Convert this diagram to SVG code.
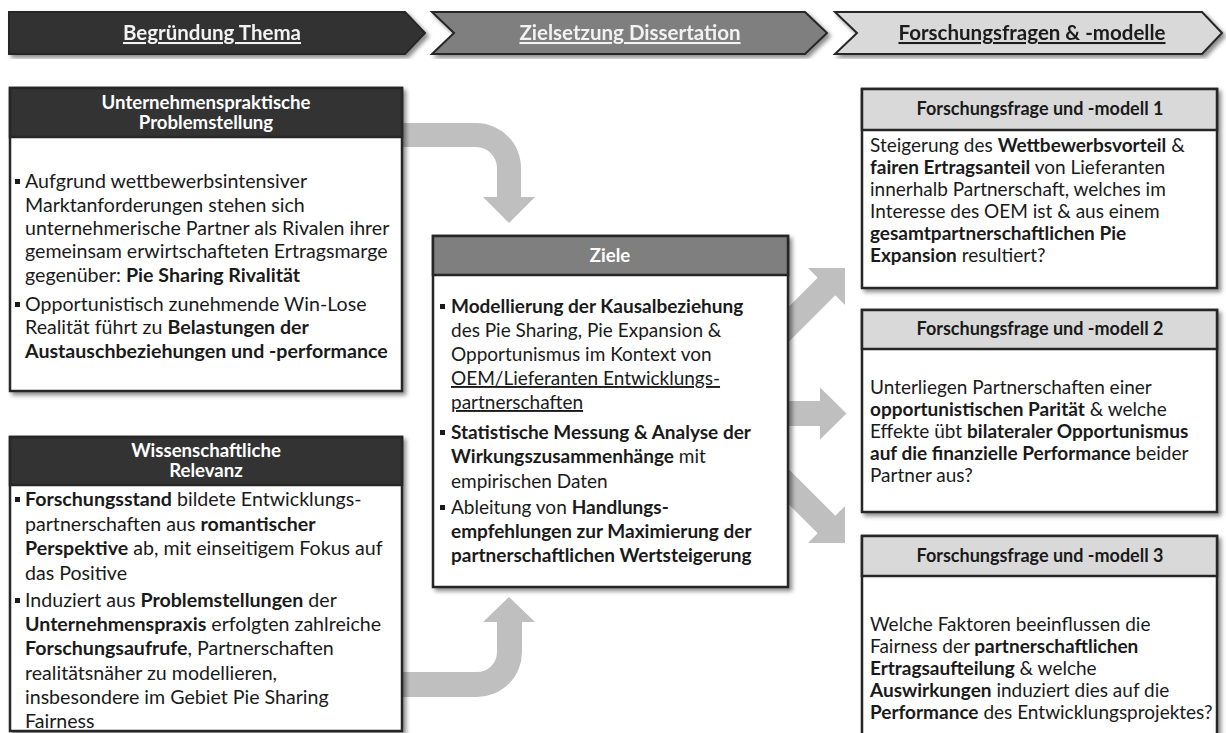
<svg xmlns="http://www.w3.org/2000/svg" width="1226" height="733" viewBox="0 0 1226 733">
  <defs>
    <filter id="shadow" x="-5%" y="-5%" width="112%" height="115%">
      <feDropShadow dx="3" dy="3" stdDeviation="2.2" flood-color="#000" flood-opacity="0.45"/>
    </filter>
    <style>
      text { font-family: "Lato", "Liberation Sans", sans-serif; }
      .body { font-size: 19px; fill: #1a1a1a; }
      .body-l { font-size: 19.6px; fill: #1a1a1a; }
      .b { font-weight: bold; }
      .u { text-decoration: underline; }
      .hd { font-size: 18.6px; font-weight: bold; text-anchor: middle; }
      .hd-q { font-size: 18px; font-weight: bold; text-anchor: middle; }
      .hd-w { fill: #ffffff; }
      .hd-d { fill: #1a1a1a; }
      .phase { font-size: 20.5px; font-weight: bold; text-anchor: middle; text-decoration: underline; }
      .frame { fill: #ffffff; stroke: #262626; stroke-width: 2.5; }
      .chev { stroke: #262626; stroke-width: 2; stroke-linejoin: miter; }
      .flow { fill: #bfbfbf; }
      .bullet { fill: #1a1a1a; }
    </style>
  </defs>

  <rect width="1226" height="733" fill="#ffffff"/>

  <!-- phase chevrons -->
  <g id="phase-begruendung" filter="url(#shadow)">
    <path class="chev" d="M9,12 H405 L425,33 L405,54 H9 Z" fill="#333333"/>
    <text class="phase" x="212" y="40" fill="#f2f2f2">Begründung Thema</text>
  </g>
  <g id="phase-zielsetzung" filter="url(#shadow)">
    <path class="chev" d="M432,12 H805 L827,33 L805,54 H432 L454,33 Z" fill="#7f7f7f"/>
    <text class="phase" x="630" y="40" fill="#f2f2f2">Zielsetzung Dissertation</text>
  </g>
  <g id="phase-forschungsfragen" filter="url(#shadow)">
    <path class="chev" d="M835,12 H1202 L1222,33 L1202,54 H835 L857,33 Z" fill="#d9d9d9"/>
    <text class="phase" x="1032" y="40" fill="#1a1a1a">Forschungsfragen &amp; -modelle</text>
  </g>

  <!-- connectors -->
  <g id="connectors">
    <path class="flow" d="M395,123 H476 A45,45 0 0 1 521,168 V197 H535 L509,223 L483,197 H497 V168 A21,21 0 0 0 476,147 H395 Z"/>
    <path class="flow" d="M395,697 H477 A45,45 0 0 0 522,652 V622 H535 L509,597 L483,622 H497 V652 A20,20 0 0 1 477,672 H395 Z"/>
    <path class="flow" d="M808,268 L845,268 L845,305 L835.3,295.3 L785.3,345.3 L767.7,327.7 L817.7,277.7 Z"/>
    <path class="flow" d="M780,401 H820 V387.5 L846.5,413.5 L820,439.5 V426 H780 Z"/>
    <path class="flow" d="M845,506 L845,543 L808,543 L817.7,533.3 L767.7,483.3 L785.3,465.7 L835.3,515.7 Z"/>
  </g>

  <!-- practical problem statement -->
  <g id="node-problemstellung">
    <rect class="frame" x="10" y="88" width="392" height="303" filter="url(#shadow)"/>
    <rect x="10" y="88" width="392" height="49" fill="#333333" stroke="#262626" stroke-width="2.5"/>
    <text class="hd hd-w" x="206" y="109">Unternehmenspraktische</text>
    <text class="hd hd-w" x="206" y="129">Problemstellung</text>
    <rect class="bullet" x="15" y="179" width="5" height="5"/>
    <text class="body-l" x="25" y="188">Aufgrund wettbewerbsintensiver</text>
    <text class="body-l" x="25" y="212">Marktanforderungen stehen sich</text>
    <text class="body-l" x="25" y="235">unternehmerische Partner als Rivalen ihrer</text>
    <text class="body-l" x="25" y="258">gemeinsam erwirtschafteten Ertragsmarge</text>
    <text class="body-l" x="25" y="282">gegenüber: <tspan class="b">Pie Sharing Rivalität</tspan></text>
    <rect class="bullet" x="15" y="302" width="5" height="5"/>
    <text class="body-l" x="25" y="311">Opportunistisch zunehmende Win-Lose</text>
    <text class="body-l" x="25" y="334">Realität führt zu <tspan class="b">Belastungen der</tspan></text>
    <text class="body-l b" x="25" y="358">Austauschbeziehungen und -performance</text>
  </g>

  <!-- scientific relevance -->
  <g id="node-relevanz">
    <rect class="frame" x="10" y="437" width="392" height="294" filter="url(#shadow)"/>
    <rect x="10" y="437" width="392" height="48" fill="#333333" stroke="#262626" stroke-width="2.5"/>
    <text class="hd hd-w" x="206" y="457">Wissenschaftliche</text>
    <text class="hd hd-w" x="206" y="477">Relevanz</text>
    <rect class="bullet" x="15" y="497" width="5" height="5"/>
    <text class="body-l" x="25" y="506"><tspan class="b">Forschungsstand</tspan> bildete Entwicklungs-</text>
    <text class="body-l" x="25" y="531">partnerschaften aus <tspan class="b">romantischer</tspan></text>
    <text class="body-l" x="25" y="555"><tspan class="b">Perspektive</tspan> ab, mit einseitigem Fokus auf</text>
    <text class="body-l" x="25" y="580">das Positive</text>
    <rect class="bullet" x="15" y="598" width="5" height="5"/>
    <text class="body-l" x="25" y="607">Induziert aus <tspan class="b">Problemstellungen</tspan> der</text>
    <text class="body-l" x="25" y="631"><tspan class="b">Unternehmenspraxis</tspan> erfolgten zahlreiche</text>
    <text class="body-l" x="25" y="655"><tspan class="b">Forschungsaufrufe</tspan>, Partnerschaften</text>
    <text class="body-l" x="25" y="680">realitätsnäher zu modellieren,</text>
    <text class="body-l" x="25" y="704">insbesondere im Gebiet Pie Sharing</text>
    <text class="body-l" x="25" y="728">Fairness</text>
  </g>

  <!-- goals -->
  <g id="node-ziele">
    <rect class="frame" x="433" y="236" width="355" height="351" filter="url(#shadow)"/>
    <rect x="433" y="236" width="355" height="39" fill="#7f7f7f" stroke="#262626" stroke-width="2.5"/>
    <text class="hd hd-w" x="610" y="262">Ziele</text>
    <rect class="bullet" x="440" y="304" width="5" height="5"/>
    <text class="body b" x="451" y="313">Modellierung der Kausalbeziehung</text>
    <text class="body" x="451" y="337">des Pie Sharing, Pie Expansion &amp;</text>
    <text class="body" x="451" y="361">Opportunismus im Kontext von</text>
    <text class="body u" x="451" y="385">OEM/Lieferanten Entwicklungs-</text>
    <text class="body u" x="451" y="409">partnerschaften</text>
    <rect class="bullet" x="440" y="430" width="5" height="5"/>
    <text class="body b" x="451" y="439">Statistische Messung &amp; Analyse der</text>
    <text class="body" x="451" y="463"><tspan class="b">Wirkungszusammenhänge</tspan> mit</text>
    <text class="body" x="451" y="488">empirischen Daten</text>
    <rect class="bullet" x="440" y="505" width="5" height="5"/>
    <text class="body" x="451" y="514">Ableitung von <tspan class="b">Handlungs-</tspan></text>
    <text class="body b" x="451" y="538">empfehlungen zur Maximierung der</text>
    <text class="body b" x="451" y="562">partnerschaftlichen Wertsteigerung</text>
  </g>

  <!-- research question 1 -->
  <g id="node-frage-1">
    <rect class="frame" x="862" y="89" width="355" height="199" filter="url(#shadow)"/>
    <rect x="862" y="89" width="355" height="41" fill="#d9d9d9" stroke="#262626" stroke-width="2.5"/>
    <text class="hd-q hd-d" x="1040" y="115">Forschungsfrage und -modell 1</text>
    <text class="body" x="870" y="152">Steigerung des <tspan class="b">Wettbewerbsvorteil</tspan> &amp;</text>
    <text class="body" x="870" y="174"><tspan class="b">fairen Ertragsanteil</tspan> von Lieferanten</text>
    <text class="body" x="870" y="196">innerhalb Partnerschaft, welches im</text>
    <text class="body" x="870" y="218">Interesse des OEM ist &amp; aus einem</text>
    <text class="body b" x="870" y="240">gesamtpartnerschaftlichen Pie</text>
    <text class="body" x="870" y="262"><tspan class="b">Expansion</tspan> resultiert?</text>
  </g>

  <!-- research question 2 -->
  <g id="node-frage-2">
    <rect class="frame" x="862" y="310" width="355" height="202" filter="url(#shadow)"/>
    <rect x="862" y="310" width="355" height="39" fill="#d9d9d9" stroke="#262626" stroke-width="2.5"/>
    <text class="hd-q hd-d" x="1040" y="335">Forschungsfrage und -modell 2</text>
    <text class="body" x="870" y="394">Unterliegen Partnerschaften einer</text>
    <text class="body" x="870" y="416"><tspan class="b">opportunistischen Parität</tspan> &amp; welche</text>
    <text class="body" x="870" y="438">Effekte übt <tspan class="b">bilateraler Opportunismus</tspan></text>
    <text class="body" x="870" y="460"><tspan class="b">auf die finanzielle Performance</tspan> beider</text>
    <text class="body" x="870" y="482">Partner aus?</text>
  </g>

  <!-- research question 3 (runs past the lower edge) -->
  <g id="node-frage-3">
    <rect class="frame" x="862" y="536" width="355" height="230" filter="url(#shadow)"/>
    <rect x="862" y="536" width="355" height="40" fill="#d9d9d9" stroke="#262626" stroke-width="2.5"/>
    <text class="hd-q hd-d" x="1040" y="562">Forschungsfrage und -modell 3</text>
    <text class="body" x="870" y="631">Welche Faktoren beeinflussen die</text>
    <text class="body" x="870" y="653">Fairness der <tspan class="b">partnerschaftlichen</tspan></text>
    <text class="body" x="870" y="675"><tspan class="b">Ertragsaufteilung</tspan> &amp; welche</text>
    <text class="body" x="870" y="697"><tspan class="b">Auswirkungen</tspan> induziert dies auf die</text>
    <text class="body" x="870" y="719"><tspan class="b">Performance</tspan> des Entwicklungsprojektes?</text>
  </g>
</svg>
